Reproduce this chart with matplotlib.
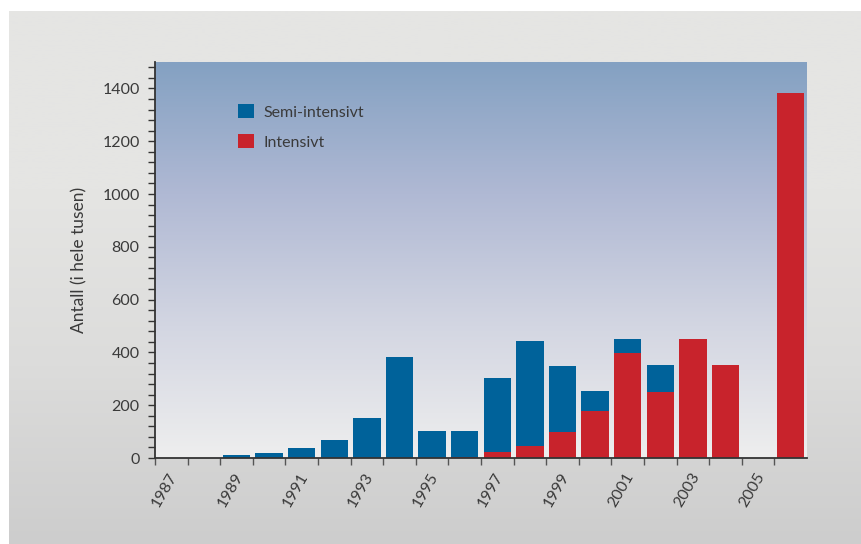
import numpy as np
import matplotlib
matplotlib.use("Agg")
import matplotlib.pyplot as plt
import matplotlib.transforms as mtransforms
from matplotlib.colors import LinearSegmentedColormap
from matplotlib.ticker import MultipleLocator

plt.rcParams['font.family'] = ['Lato', 'DejaVu Sans']

# Data (thousands)
years = list(range(1987, 2007))
intensivt = [0, 0, 0, 0, 0, 0, 0, 0, 0, 2, 21, 45, 99, 177, 396, 250, 450, 352, 0, 1381]
semi_intensivt = [0, 0, 10, 18, 37, 67, 150, 382, 101, 99, 281, 398, 249, 76, 54, 102, 0, 0, 0, 0]

blue = '#00629a'
red = '#c8232c'
text_col = '#3a3a3a'

fig = plt.figure(figsize=(8.61, 5.44), dpi=100)
fig.patch.set_facecolor('white')

# outer gray panel with a soft vertical gradient
bg = fig.add_axes([9 / 861, 0, 1 - 9 / 861, 533 / 544], zorder=-10)
bg_cmap = LinearSegmentedColormap.from_list('bg', ['#cdcdcd', '#dcdcdb', '#e5e5e3', '#e5e5e3'])
bg.imshow(np.linspace(0, 1, 256).reshape(-1, 1), cmap=bg_cmap, aspect='auto',
          origin='lower', extent=[0, 1, 0, 1])
bg.axis('off')

ax = fig.add_axes([155 / 861, 86 / 544, 652 / 861, 396 / 544])
ax.set_facecolor('none')

# plot area gradient
grad_cmap = LinearSegmentedColormap.from_list('plot', ['#eeeeee', '#d3d6e2', '#b0b9d4', '#84a1c2'])
ax.imshow(np.linspace(0, 1, 256).reshape(-1, 1), cmap=grad_cmap, aspect='auto',
          origin='lower', extent=[-0.5, 19.5, 0, 1500], zorder=0)

x = np.arange(len(years))
ax.bar(x, intensivt, width=0.84, color=red, zorder=2, label='Intensivt')
ax.bar(x, semi_intensivt, width=0.84, bottom=intensivt, color=blue, zorder=2,
       label='Semi-intensivt')

ax.set_xlim(-0.5, len(years) - 0.5)
ax.set_ylim(0, 1500)

for s in ['top', 'right']:
    ax.spines[s].set_visible(False)
for s in ['left', 'bottom']:
    ax.spines[s].set_color('#333333')
    ax.spines[s].set_linewidth(1.3)

ax.yaxis.set_major_locator(MultipleLocator(200))
ax.yaxis.set_minor_locator(MultipleLocator(40))
ax.set_yticks(range(0, 1401, 200))
ax.set_yticklabels([str(v) for v in range(0, 1401, 200)])
ax.tick_params(axis='y', which='both', length=5, width=1, color='#333333',
               labelsize=11.5, labelcolor=text_col, pad=6)

# ticks at slot boundaries, label every other year
ax.set_xticks(x - 0.5)
ax.set_xticklabels([str(y) if (y - 1987) % 2 == 0 else '' for y in years],
                   rotation=60, ha='center', va='top')
ax.tick_params(axis='x', length=5, width=1, color='#555555', labelsize=11.5,
               labelcolor=text_col, pad=4)
offset = mtransforms.ScaledTranslation(10 / 100, 0, fig.dpi_scale_trans)
for lbl in ax.get_xticklabels():
    lbl.set_transform(lbl.get_transform() + offset)

ax.set_ylabel('Antall (i hele tusen)', fontsize=12.5, color=text_col, labelpad=11)

handles, labels = ax.get_legend_handles_labels()
leg = ax.legend(handles[::-1], labels[::-1], loc='upper left', bbox_to_anchor=(0.105, 0.93),
                frameon=False, fontsize=11.5, handlelength=1.0, handleheight=1.0,
                handletextpad=0.6, labelspacing=0.9)
for t in leg.get_texts():
    t.set_color(text_col)

fig.savefig('out.png', dpi=100)
